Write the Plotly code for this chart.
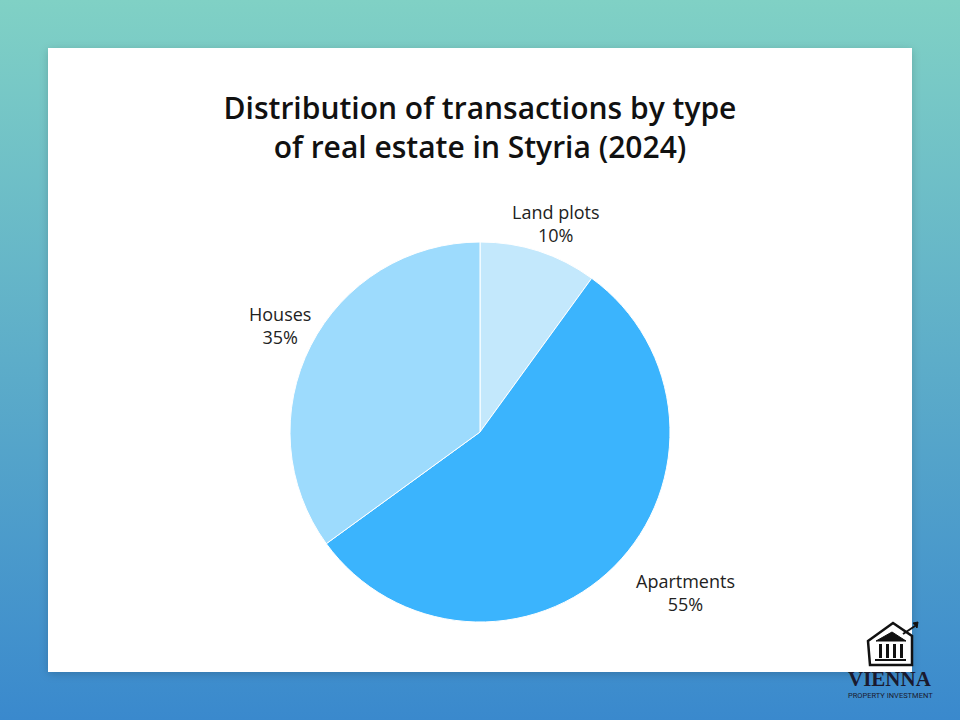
import base64
import math
import plotly.graph_objects as go

labels = ["Land plots", "Apartments", "Houses"]
values = [10, 55, 35]
colors = ["#C3E8FC", "#3BB4FD", "#9DDBFD"]

title_text = "Distribution of transactions by type<br>of real estate in Styria (2024)"

W, H = 960, 720
CX, CY, R = 480, 432, 190          # pie centre / radius in pixels
label_dist = [222, 261, 226]       # how far out each label sits
label_nudge = [2, -7, 1]           # small angular nudge (degrees)

def px(x): return x/W
def py(y): return 1 - y/H

# gradient backdrop + white card as an inline svg image (no network needed)
bg_svg = f"""<svg xmlns='http://www.w3.org/2000/svg' width='{W}' height='{H}'>
<defs><linearGradient id='g' x1='0' y1='0' x2='0' y2='1'>
<stop offset='0' stop-color='#80D1C5'/><stop offset='1' stop-color='#3A89CD'/>
</linearGradient>
<filter id='s' x='-5%' y='-5%' width='110%' height='110%'>
<feDropShadow dx='0' dy='2' stdDeviation='4' flood-opacity='0.18'/></filter></defs>
<rect width='{W}' height='{H}' fill='url(#g)'/>
<rect x='48' y='48' width='864' height='624' fill='white' filter='url(#s)'/>
</svg>"""
bg_uri = "data:image/svg+xml;base64," + base64.b64encode(bg_svg.encode()).decode()

fig = go.Figure()
fig.add_trace(go.Pie(
    labels = labels,
    values = values,
    sort = False,
    direction = "clockwise",
    rotation = 0,
    marker = dict(colors = colors, line = dict(color = "white", width = 1)),
    textinfo = "none",
    showlegend = False,
    domain = dict(x = [px(CX - R), px(CX + R)], y = [py(CY + R), py(CY - R)]),
    hoverinfo = "label+percent",
))

# outside labels, placed around each slice's mid angle
total = sum(values)
start = 0
for lab, val, dist, nudge in zip(labels, values, label_dist, label_nudge):
    mid = (start + val/2)/total*2*math.pi + math.radians(nudge)
    start += val
    x = CX + dist*math.sin(mid)
    y = CY - dist*math.cos(mid)
    fig.add_annotation(x = px(x), y = py(y), xref = "paper", yref = "paper",
        text = f"{lab}<br>{round(100*val/total)}%", showarrow = False,
        xanchor = "center", yanchor = "middle", align = "center",
        font = dict(family = "Open Sans", size = 18, color = "#222222"))

fig.add_layout_image(dict(
    source = bg_uri, xref = "paper", yref = "paper", x = 0, y = 1,
    sizex = 1, sizey = 1, xanchor = "left", yanchor = "top",
    sizing = "stretch", layer = "below",
))

# logo: little building with arrow
logo = "#111111"
fig.add_shape(type = "path", xref = "paper", yref = "paper",
    path = f"M {px(868)},{py(641)} L {px(893)},{py(623)} L {px(912)},{py(636)} L {px(912)},{py(665)} L {px(870)},{py(665)} Z",
    fillcolor = "white", line = dict(color = logo, width = 2.5))
fig.add_shape(type = "path", xref = "paper", yref = "paper",
    path = f"M {px(903)},{py(634)} L {px(915)},{py(626)}",
    line = dict(color = logo, width = 2))
fig.add_shape(type = "path", xref = "paper", yref = "paper",
    path = f"M {px(913)},{py(623)} L {px(918)},{py(622)} L {px(917)},{py(628)} Z",
    fillcolor = logo, line = dict(color = logo, width = 1))
fig.add_shape(type = "path", xref = "paper", yref = "paper",
    path = f"M {px(876)},{py(641)} L {px(892)},{py(632)} L {px(906)},{py(641)} Z",
    fillcolor = logo, line = dict(color = logo, width = 1))
for cx in [879, 886, 893, 900]:
    fig.add_shape(type = "rect", xref = "paper", yref = "paper",
        x0 = px(cx), x1 = px(cx + 3), y0 = py(658), y1 = py(644),
        fillcolor = logo, line = dict(width = 0))
fig.add_shape(type = "rect", xref = "paper", yref = "paper",
    x0 = px(875), x1 = px(906), y0 = py(661), y1 = py(659),
    fillcolor = logo, line = dict(width = 0))

fig.add_annotation(x = px(890), y = py(679), xref = "paper", yref = "paper",
    text = "<b>VIENNA</b>", showarrow = False, xanchor = "center", yanchor = "middle",
    font = dict(family = "Liberation Serif", size = 21, color = "#1A1A2E"))
fig.add_annotation(x = px(890), y = py(695), xref = "paper", yref = "paper",
    text = "PROPERTY INVESTMENT", showarrow = False, xanchor = "center", yanchor = "middle",
    font = dict(family = "Roboto", size = 7.5, color = "#1A1A2E"))

fig.update_layout(
    width = W, height = H,
    margin = dict(l = 0, r = 0, t = 0, b = 0),
    paper_bgcolor = "#3A89CD",
    plot_bgcolor = "rgba(0,0,0,0)",
    title = dict(
        text = title_text, x = 0.5, xanchor = "center",
        y = py(119), yanchor = "middle",
        font = dict(family = "Open Sans", size = 30, color = "#111111", weight = 600),
    ),
)

# drop the default 8px page margin so the figure sits at the window's corner
fig.write_html("out.html", config = {"displayModeBar": False},
    post_script = "document.body.style.margin = '0';")
